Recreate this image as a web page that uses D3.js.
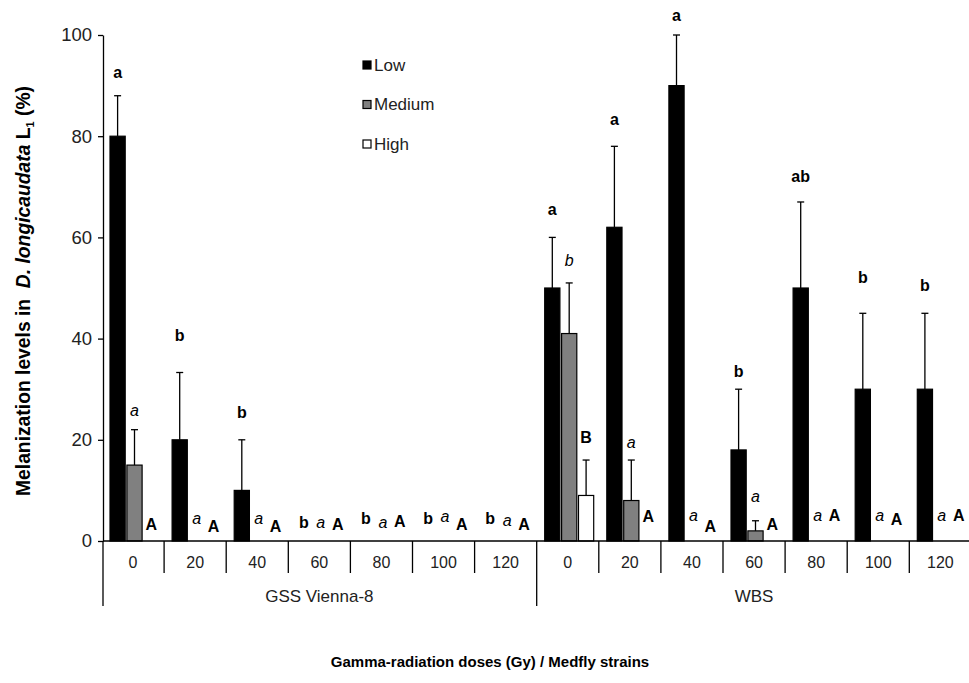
<!DOCTYPE html>
<html>
<head>
<meta charset="utf-8">
<script src="https://cdn.jsdelivr.net/npm/d3@7"></script>
<style>
  body { margin: 0; background: #fff; }
  svg { font-family: "Liberation Sans", Arial, sans-serif; }
</style>
</head>
<body>
<svg id="chart" width="969" height="683"></svg>
<script>
// strains and doses (Gy)
var groups = ["GSS Vienna-8", "WBS"];
var doses = ["0", "20", "40", "60", "80", "100", "120"];
var series = ["Low", "Medium", "High"];

// melanization levels (%), 7 GSS doses then 7 WBS doses
var low       = [80, 20, 10, 0, 0, 0, 0,   50, 62, 90, 18, 50, 30, 30];
var lowErr    = [8, 13.3, 10, 0, 0, 0, 0,  10, 16, 10, 12, 17, 15, 15];
var medium    = [15, 0, 0, 0, 0, 0, 0,     41, 8, 0, 2, 0, 0, 0];
var mediumErr = [7, 0, 0, 0, 0, 0, 0,      10, 8, 0, 2, 0, 0, 0];
var high      = [0, 0, 0, 0, 0, 0, 0,      9, 0, 0, 0, 0, 0, 0];
var highErr   = [0, 0, 0, 0, 0, 0, 0,      7, 0, 0, 0, 0, 0, 0];

// significance letters and the level (in %) where each one sits
var lowLetters = ["a", "b", "b", "b", "b", "b", "b", "a", "a", "a", "b", "ab", "b", "b"];
var lowLetterAt = [92.7, 40.7, 25.5, 3.6, 4.5, 4.5, 4.5, 65.6, 83.4, 103.8, 33.5, 72, 52, 50.6];
var mediumLetters = ["a", "a", "a", "a", "a", "a", "a", "b", "a", "a", "a", "a", "a", "a"];
var mediumLetterAt = [25.9, 4.5, 4.5, 3.6, 3.6, 4.9, 4.0, 55.5, 19.4, 5, 8.8, 5.1, 5.1, 5.1];
var highLetters = ["A", "A", "A", "A", "A", "A", "A", "B", "A", "A", "A", "A", "A", "A"];
var highLetterAt = [3.2, 2.8, 2.8, 3.2, 3.8, 3.2, 3.2, 20.4, 4.8, 2.8, 3.2, 5.1, 4.2, 5.1];

var yTicks = [0, 20, 40, 60, 80, 100];

(function () {
  var values = [low, medium, high];
  var errs = [lowErr, mediumErr, highErr];
  var letters = [lowLetters, mediumLetters, highLetters];
  var letterAt = [lowLetterAt, mediumLetterAt, highLetterAt];
  var fills = ["#000", "#808080", "#fff"];
  var letterStyle = [
    {weight: "bold", style: "normal"},
    {weight: "normal", style: "italic"},
    {weight: "bold", style: "normal"}
  ];

  var svg = d3.select("#chart");
  var plotLeft = 102, plotRight = 971.4, plotTop = 35, plotBottom = 541;

  var cats = d3.range(groups.length * doses.length);

  var x = d3.scaleBand().domain(cats).range([plotLeft, plotRight]).paddingInner(0).paddingOuter(0);
  var xs = d3.scaleBand().domain(series).range([8, 57]).paddingInner(0.1).paddingOuter(0);
  var y = d3.scaleLinear().domain([0, 100]).range([plotBottom, plotTop]);

  // y axis
  var yAxis = svg.append("g")
    .attr("transform", "translate(" + (plotLeft + 1) + ",0)")
    .call(d3.axisLeft(y).tickValues(yTicks).tickSize(5).tickPadding(6).tickSizeOuter(0));
  yAxis.select(".domain").attr("stroke", "#000").attr("stroke-width", 1.3);
  yAxis.selectAll(".tick line").attr("stroke-width", 1.3);
  yAxis.selectAll("text").style("font-size", "18.5px").attr("fill", "#222")
    .attr("font-family", "Liberation Sans, Arial, sans-serif");

  // bars, error bars and letters
  var g = svg.append("g");
  series.forEach(function(s, si) {
    var rows = cats.map(function(i) {
      return {i: i, v: values[si][i], e: errs[si][i]};
    });
    var cx = function(d) { return x(d.i) + xs(s) + xs.bandwidth() / 2; };

    g.selectAll(".bar-" + s)
      .data(rows.filter(function(d) { return d.v > 0; }))
      .enter().append("rect")
        .attr("x", function(d) { return x(d.i) + xs(s); })
        .attr("y", function(d) { return y(d.v); })
        .attr("width", xs.bandwidth())
        .attr("height", function(d) { return y(0) - y(d.v); })
        .attr("fill", fills[si])
        .attr("stroke", "#000")
        .attr("stroke-width", 1.2);

    var eb = rows.filter(function(d) { return d.e > 0; });
    g.selectAll(".err-" + s)
      .data(eb)
      .enter().append("line")
        .attr("x1", cx).attr("x2", cx)
        .attr("y1", function(d) { return y(d.v); })
        .attr("y2", function(d) { return y(d.v + d.e); })
        .attr("stroke", "#000").attr("stroke-width", 1.3);
    g.selectAll(".cap-" + s)
      .data(eb)
      .enter().append("line")
        .attr("x1", function(d) { return cx(d) - 3.5; })
        .attr("x2", function(d) { return cx(d) + 3.5; })
        .attr("y1", function(d) { return y(d.v + d.e); })
        .attr("y2", function(d) { return y(d.v + d.e); })
        .attr("stroke", "#000").attr("stroke-width", 1.3);

    g.selectAll(".lt-" + s)
      .data(cats)
      .enter().append("text")
        .attr("x", function(i) { return x(i) + xs(s) + xs.bandwidth() / 2; })
        .attr("y", function(i) { return y(letterAt[si][i]); })
        .attr("dy", "0.35em")
        .attr("text-anchor", "middle")
        .style("font-size", "16px")
        .style("font-weight", letterStyle[si].weight)
        .style("font-style", letterStyle[si].style)
        .text(function(i) { return letters[si][i]; });
  });

  // category axis
  var xAxis = svg.append("g");
  xAxis.append("line")
    .attr("x1", plotLeft + 1).attr("x2", plotRight)
    .attr("y1", plotBottom).attr("y2", plotBottom)
    .attr("stroke", "#000").attr("stroke-width", 1.3);
  cats.forEach(function(i) {
    var edge = i % doses.length === 0;
    var px = x(i) + (i === 0 ? 1 : 0);
    xAxis.append("line")
      .attr("x1", px).attr("x2", px)
      .attr("y1", plotBottom).attr("y2", edge ? 606 : 573)
      .attr("stroke", "#000").attr("stroke-width", 1.3);
    xAxis.append("text")
      .attr("x", x(i) + x.bandwidth() / 2)
      .attr("y", 562).attr("dy", "0.35em")
      .attr("text-anchor", "middle")
      .style("font-size", "16px").attr("fill", "#222")
      .text(doses[i % doses.length]);
  });
  xAxis.append("line")
    .attr("x1", plotRight - 1).attr("x2", plotRight - 1)
    .attr("y1", plotBottom).attr("y2", 606)
    .attr("stroke", "#000").attr("stroke-width", 1.3);
  groups.forEach(function(name, gi) {
    var a = x(gi * doses.length);
    var b = gi === groups.length - 1 ? plotRight : x((gi + 1) * doses.length);
    xAxis.append("text")
      .attr("x", (a + b) / 2).attr("y", 596).attr("dy", "0.35em")
      .attr("text-anchor", "middle")
      .style("font-size", "17px").attr("fill", "#222")
      .text(name);
  });

  // legend
  var legend = svg.append("g").attr("transform", "translate(363,65)");
  series.forEach(function(s, si) {
    var row = legend.append("g").attr("transform", "translate(0," + (si * 39.5) + ")");
    row.append("rect")
      .attr("x", 0).attr("y", -4).attr("width", 8).attr("height", 8)
      .attr("fill", fills[si]).attr("stroke", "#000").attr("stroke-width", 1.2);
    row.append("text")
      .attr("x", 11).attr("dy", "0.35em")
      .style("font-size", "17px").attr("fill", "#222")
      .text(s);
  });

  // axis titles
  var yt = svg.append("text")
    .attr("transform", "translate(30,291) rotate(-90)")
    .attr("text-anchor", "middle")
    .style("font-size", "19.3px")
    .style("font-weight", "bold");
  yt.append("tspan").text("Melanization levels in\u00a0\u00a0");
  yt.append("tspan").style("font-style", "italic").text("D. longicaudata");
  yt.append("tspan").text(" L");
  yt.append("tspan").attr("dy", 4).style("font-size", "11px").text("1");
  yt.append("tspan").attr("dy", -4).text(" (%)");

  svg.append("text")
    .attr("x", 490).attr("y", 662).attr("dy", "0.35em")
    .attr("text-anchor", "middle")
    .style("font-size", "15px")
    .style("font-weight", "bold")
    .text("Gamma-radiation doses (Gy) / Medfly strains");
})();
</script>
</body>
</html>
